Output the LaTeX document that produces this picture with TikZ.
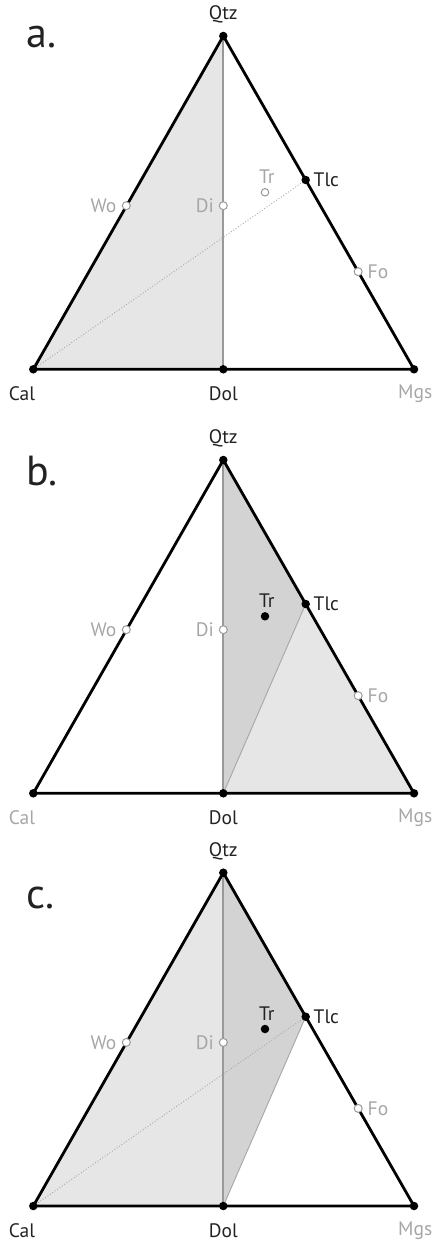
\documentclass[tikz,border=0pt]{standalone}
\usepackage{fontspec}
\setmainfont{PT Sans}
\definecolor{lightfill}{HTML}{E6E6E6}
\definecolor{darkfill}{HTML}{D3D3D3}
\definecolor{labgray}{HTML}{A6A6A6}
\definecolor{labblack}{HTML}{222222}
\definecolor{linegray}{HTML}{999999}
\newcommand\defverts[1]{%
  \coordinate (#1Q) at (223.3,36);
  \coordinate (#1C) at (33.3,369.3);
  \coordinate (#1D) at (223.3,369.3);
  \coordinate (#1M) at (414,369.3);
  \coordinate (#1WoP) at (126.3,205.7);
  \coordinate (#1DiP) at (223.3,205.7);
  \coordinate (#1TlcP) at (305.7,180);
  \coordinate (#1FoP) at (358.2,271.7);
  \coordinate (#1TrP) at (265,192.3);
}
\tikzset{
  outer/.style={line width=2.8pt, black, line join=miter},
  graylink/.style={line width=1.8pt, linegray},
  thinlink/.style={line width=0.9pt, color=labgray},
  dotlink/.style={line width=0.9pt, color=labgray, dotted},
  vdot/.style={circle, fill=black, inner sep=0pt, minimum size=8.5pt},
  odot/.style={circle, fill=white, draw=linegray, line width=1pt, inner sep=0pt, minimum size=8pt},
  lab/.style={font=\fontsize{19.5}{22}\selectfont, inner sep=0pt},
  glab/.style={lab, text=labgray},
  blab/.style={lab, text=labblack},
  panel/.style={font=\fontsize{42}{46}\selectfont, inner sep=0pt, anchor=base west, text=labblack}
}
\begin{document}
\begin{tikzpicture}[x=1pt,y=-1pt]
\useasboundingbox (0,0) rectangle (435,1241);
% ---------------- panel a ----------------
\begin{scope}
\defverts{a}
\fill[lightfill] (aC) -- (aQ) -- (aD) -- cycle;
\draw[graylink] (aQ) -- (aD);
\draw[dotlink] (aC) -- (aTlcP);
\draw[outer] (aC) -- (aQ) -- (aM) -- cycle;
\node[vdot] (aQtz) at (aQ) {};
\node[vdot] (aCal) at (aC) {};
\node[vdot] (aDol) at (aD) {};
\node[vdot] (aMgs) at (aM) {};
\node[vdot] (aTlc) at (aTlcP) {};
\node[odot] (aWo) at (aWoP) {};
\node[odot] (aDi) at (aDiP) {};
\node[odot] (aFo) at (aFoP) {};
\node[odot, minimum size=7.5pt] (aTr) at (aTrP) {};
\node[blab] at (223.3,14.5) {Qtz};
\node[blab] at (22,394) {Cal};
\node[blab] at (223.3,394) {Dol};
\node[glab, anchor=west] at (398,394) {Mgs};
\node[glab, anchor=east] at (116.5,205.7) {Wo};
\node[glab, anchor=east] at (214,205.7) {Di};
\node[blab, anchor=west] at (313.5,180) {Tlc};
\node[glab, anchor=west] at (367.5,271.7) {Fo};
\node[glab] at (266.7,176.5) {Tr};
\node[panel] at (26,48) {a.};
\end{scope}
% ---------------- panel b ----------------
\begin{scope}[shift={(0,424)}]
\defverts{b}
\fill[darkfill] (bQ) -- (bTlcP) -- (bD) -- cycle;
\fill[lightfill] (bD) -- (bTlcP) -- (bM) -- cycle;
\draw[graylink] (bQ) -- (bD);
\draw[thinlink] (bD) -- (bTlcP);
\draw[outer] (bC) -- (bQ) -- (bM) -- cycle;
\node[vdot] (bQtz) at (bQ) {};
\node[vdot] (bCal) at (bC) {};
\node[vdot] (bDol) at (bD) {};
\node[vdot] (bMgs) at (bM) {};
\node[vdot] (bTlc) at (bTlcP) {};
\node[odot] (bWo) at (bWoP) {};
\node[odot] (bDi) at (bDiP) {};
\node[odot] (bFo) at (bFoP) {};
\node[vdot] (bTr) at (bTrP) {};
\node[blab] at (223.3,14.5) {Qtz};
\node[glab] at (22,394) {Cal};
\node[blab] at (223.3,394) {Dol};
\node[glab, anchor=west] at (398,394) {Mgs};
\node[glab, anchor=east] at (116.5,205.7) {Wo};
\node[glab, anchor=east] at (214,205.7) {Di};
\node[blab, anchor=west] at (313.5,180) {Tlc};
\node[glab, anchor=west] at (367.5,271.7) {Fo};
\node[blab] at (266.7,176.5) {Tr};
\node[panel] at (26,61) {b.};
\end{scope}
% ---------------- panel c ----------------
\begin{scope}[shift={(0,836.7)}]
\defverts{c}
\fill[lightfill] (cC) -- (cQ) -- (cD) -- cycle;
\fill[darkfill] (cQ) -- (cTlcP) -- (cD) -- cycle;
\draw[graylink] (cQ) -- (cD);
\draw[dotlink] (cC) -- (cTlcP);
\draw[thinlink] (cD) -- (cTlcP);
\draw[outer] (cC) -- (cQ) -- (cM) -- cycle;
\node[vdot] (cQtz) at (cQ) {};
\node[vdot] (cCal) at (cC) {};
\node[vdot] (cDol) at (cD) {};
\node[vdot] (cMgs) at (cM) {};
\node[vdot] (cTlc) at (cTlcP) {};
\node[odot] (cWo) at (cWoP) {};
\node[odot] (cDi) at (cDiP) {};
\node[odot] (cFo) at (cFoP) {};
\node[vdot] (cTr) at (cTrP) {};
\node[blab] at (223.3,14.5) {Qtz};
\node[blab] at (22,394) {Cal};
\node[blab] at (223.3,394) {Dol};
\node[glab, anchor=west] at (398,394) {Mgs};
\node[glab, anchor=east] at (116.5,205.7) {Wo};
\node[glab, anchor=east] at (214,205.7) {Di};
\node[blab, anchor=west] at (313.5,180) {Tlc};
\node[glab, anchor=west] at (367.5,271.7) {Fo};
\node[blab] at (266.7,176.5) {Tr};
\node[panel] at (26,71.5) {c.};
\end{scope}
\end{tikzpicture}
\end{document}
